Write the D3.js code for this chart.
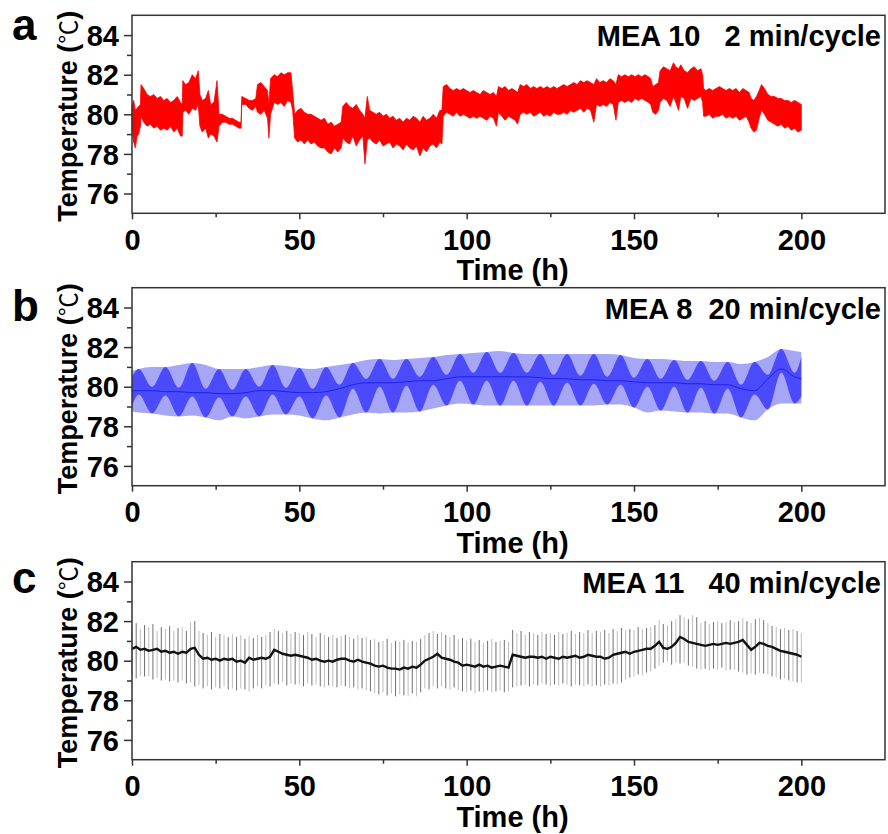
<!DOCTYPE html>
<html><head><meta charset="utf-8">
<script src="https://cdn.jsdelivr.net/npm/d3@7"></script>
<style>body{margin:0;background:#fff}svg{display:block}</style>
</head><body>
<script>
// ---------- Data ----------
const xTicks = [0, 50, 100, 150, 200];
const xMinor = [25, 75, 125, 175];
const yTicks = [76, 78, 80, 82, 84];
const yMinor = [77, 79, 81, 83];
const panelLetters = ["a", "b", "c"];
const panelTitles = ["MEA 10   2 min/cycle", "MEA 8  20 min/cycle", "MEA 11   40 min/cycle"];

// Panel a (MEA 10, 2 min/cycle): band envelope [time h, low, high]
const tA = [0,0.5,1,1.5,2,2.5,2.7,3.5,4.5,5.5,6.5,7.5,8.5,9.5,10.5,11.5,12.5,13.5,14.5,15,15.2,16,17,18,19,19.8,20.3,21,22,22.8,23.5,24.5,25.4,26,27,28,29,30,31,32,32.6,32.8,34,35,36,37,37.5,38.5,39.5,40.5,40.9,41.4,42.5,43.5,44.5,45.5,46.5,47.5,48,48.6,49.5,50.5,51.5,52.5,53.5,54.5,55.5,56.5,57.5,58.5,59.5,60.5,61.5,62.5,63,64,65,66,67,68,69,69.6,70.3,71,72,73,74,75,76,77,78,79,80,81,82,83,84,85,86,87,88,89,90,91,92,92.6,93,94,95,96,97,98,99,100,101,102,103,104,105,106,107,108,108.9,109.5,110.5,111.5,112.5,113.5,114.5,115.2,116,117,118,119,120,121,122,123,124,125,126,127,128,129,130,131,132,133,134,135,136,137,138,138.8,139.8,140.8,141.8,142.8,143.8,144.6,145.3,146.3,147.3,148.3,149.3,150.3,151.3,152.3,153.3,154.3,155,155.6,156.5,157.3,157.8,158.8,159.8,160.8,161.8,162.5,163.3,164,165,166,167,168,169,170,170.5,170.8,171.5,172.5,173.5,174.5,175.5,176.5,177.5,178.5,179.5,180.5,181.5,182.5,183.5,184.4,185,185.8,186.6,187.4,188.1,189,190,191,192,193,194,195,196,197,198,199,200];
const loA = [79.2,78.6,78.3,78.9,79.0,79.4,79.9,79.6,79.4,79.5,79.3,79.4,79.2,79.3,79.2,79.4,79.1,79.3,78.9,78.9,80.1,80.2,80.0,80.3,80.2,80.5,79.4,79.1,79.3,78.8,79.0,78.9,78.6,79.4,79.6,79.6,79.5,79.5,79.4,79.3,79.3,80.5,80.5,80.3,80.2,80.4,80.1,80.0,80.2,79.8,78.8,80.0,80.6,80.5,80.6,80.4,80.7,80.6,80.2,78.8,78.6,78.7,78.5,78.7,78.5,78.6,78.4,78.3,78.3,78.1,78.0,78.3,78.1,78.3,78.8,78.6,78.5,78.9,78.4,78.7,78.9,77.5,78.7,78.8,78.6,78.5,78.7,78.4,78.5,78.6,78.3,78.5,78.4,78.2,78.5,78.3,78.2,78.4,77.9,78.3,78.1,78.4,78.5,78.3,78.6,78.5,79.9,80.1,80.0,79.9,80.1,79.9,80.0,79.9,79.8,79.9,79.8,79.9,79.8,79.7,79.9,79.8,79.4,80.1,79.9,79.7,79.9,79.8,79.7,79.5,80.0,80.1,80.0,80.1,79.9,80.0,80.1,79.9,80.0,79.9,80.1,80.0,80.0,80.1,80.0,80.2,80.1,80.2,80.3,80.1,80.3,80.2,79.6,80.5,80.4,80.5,80.4,80.6,80.5,79.7,80.6,80.7,80.6,80.7,80.6,80.8,80.7,80.8,80.7,80.6,80.5,80.1,80.0,80.2,80.6,80.8,80.7,80.4,80.9,80.6,80.2,80.9,80.8,80.3,80.8,80.7,80.8,80.9,80.6,79.9,79.9,80.0,79.8,79.9,79.9,80.0,79.8,79.9,79.8,79.9,79.7,79.8,79.9,79.6,79.3,79.1,79.2,79.8,80.2,80.0,79.7,79.6,79.5,79.4,79.5,79.3,79.4,79.2,79.3,79.1,79.2];
const hiA = [80.4,80.7,80.2,80.3,80.4,80.5,81.5,81.3,81.0,80.9,81.0,80.8,80.9,80.7,80.8,80.6,80.7,80.9,80.6,80.5,81.7,81.5,81.6,82.0,81.8,82.2,81.0,80.7,80.8,81.2,80.5,80.6,81.7,80.0,80.0,79.9,79.8,79.8,79.7,79.6,79.6,80.9,80.8,80.7,80.7,80.8,81.5,81.6,81.4,81.2,80.5,81.8,82.0,81.9,82.1,82.0,82.1,82.1,81.2,80.0,80.2,80.3,80.1,80.0,80.0,79.9,79.8,79.7,79.8,79.5,79.6,79.4,79.5,79.6,80.4,80.6,80.4,80.3,80.5,80.2,80.0,79.8,80.9,80.2,80.1,80.0,80.1,79.9,80.0,79.8,79.9,79.7,79.8,79.6,79.8,79.7,79.9,79.8,79.6,79.9,79.7,79.8,80.0,79.8,80.2,80.2,81.4,81.5,81.3,81.2,81.3,81.2,81.3,81.2,81.1,81.2,81.1,81.0,81.2,81.1,81.0,81.1,80.9,81.4,81.3,81.4,81.2,81.3,81.2,81.1,81.5,81.4,81.5,81.3,81.4,81.3,81.4,81.3,81.4,81.3,81.4,81.3,81.4,81.5,81.4,81.5,81.6,81.5,81.7,81.6,81.7,81.6,81.5,81.8,81.6,81.7,81.6,81.8,81.7,81.5,82.0,81.9,82.0,81.9,82.0,81.9,82.0,81.9,82.0,81.9,81.8,81.4,81.5,81.6,82.2,82.4,82.3,82.2,82.6,82.4,82.3,82.5,82.2,82.1,82.3,82.4,82.2,82.3,82.0,81.3,81.2,81.3,81.2,81.3,81.4,81.3,81.2,81.3,81.2,81.3,81.1,81.3,81.2,81.1,80.8,80.7,80.9,81.2,81.5,81.3,81.0,80.9,80.9,80.8,80.8,80.7,80.7,80.6,80.7,80.6,80.5];

// Panel b (MEA 8, 20 min/cycle): outer band, inner dark band, centre line
const tB = [0,2,6,10,14,18,22,26,30,34,38,42,46,50,54,58,62,66,70,74,78,82,86,90,94,98,102,106,110,114,118,122,126,130,134,138,142,146,150,154,158,162,166,170,174,178,182,186,190,194,198,200];
const loB = [78.75,78.7,78.65,78.55,78.5,78.55,78.45,78.3,78.5,78.4,78.5,78.6,78.6,78.55,78.4,78.3,78.45,78.6,78.7,78.65,78.7,78.7,78.75,78.9,79.05,79.15,79.1,79.05,79.05,79.05,79.05,79.05,79.05,79.05,79.05,79.05,79.1,79.1,78.95,78.7,78.8,78.75,78.7,78.7,78.65,78.65,78.45,78.3,78.85,79.15,79.15,79.15];
const hiB = [80.8,80.9,81.0,81.0,81.1,81.2,81.1,80.9,80.9,80.9,81.0,81.1,81.05,80.95,80.9,81.0,81.1,81.2,81.35,81.4,81.35,81.4,81.45,81.5,81.6,81.65,81.7,81.75,81.8,81.7,81.65,81.65,81.65,81.65,81.65,81.65,81.65,81.6,81.45,81.4,81.4,81.35,81.3,81.3,81.25,81.25,81.15,81.25,81.5,81.9,81.8,81.75];
const dLoB = [79.0,79.6,78.65,79.55,78.5,79.5,78.45,79.45,78.5,79.5,78.5,79.6,78.6,79.5,78.4,79.55,78.45,79.9,78.7,80.0,78.7,80.05,78.75,80.1,79.05,80.3,79.1,80.3,79.05,80.3,79.05,80.25,79.05,80.2,79.05,80.15,79.1,80.1,78.95,80.0,78.8,80.0,78.7,79.95,78.65,79.9,78.45,79.6,78.85,80.7,79.15,79.5];
const dHiB = [80.5,80.9,80.0,81.0,79.95,81.2,79.9,80.9,79.85,80.9,80.0,81.1,79.95,80.95,79.9,81.0,80.1,81.2,80.4,81.4,80.4,81.4,80.5,81.5,80.6,81.65,80.7,81.75,80.7,81.7,80.7,81.65,80.6,81.65,80.55,81.65,80.5,81.6,80.45,81.4,80.4,81.35,80.35,81.3,80.3,81.25,80.1,81.25,80.6,81.9,80.7,81.5];
const midB = [79.8,79.8,79.8,79.75,79.75,79.7,79.7,79.65,79.65,79.7,79.8,79.8,79.75,79.7,79.7,79.75,79.9,80.1,80.2,80.2,80.2,80.25,80.3,80.3,80.4,80.5,80.5,80.5,80.5,80.5,80.5,80.45,80.4,80.4,80.35,80.35,80.3,80.3,80.25,80.2,80.2,80.2,80.15,80.15,80.1,80.1,79.9,79.8,80.4,80.9,80.5,80.4];

// Panel c (MEA 11, 40 min/cycle): sampled every 1.25 h
const stepC = 1.25;
const midC = [80.6,80.7,80.55,80.6,80.5,80.55,80.6,80.45, 80.5,80.4,80.45,80.35,80.45,80.4,80.6,80.65, 80.3,80.1,80.15,80.05,80.1,80.0,80.1,80.05, 80.1,79.95,80.0,79.9,80.15,80.05,80.1,80.15, 80.1,80.2,80.55,80.45,80.35,80.3,80.25,80.3, 80.25,80.2,80.15,80.05,80.1,80.0,79.95,80.0, 79.95,80.05,80.1,80.1,80.0,79.95,80.05,79.95, 79.9,79.85,79.75,79.7,79.75,79.65,79.6,79.6, 79.55,79.65,79.6,79.7,79.65,79.8,80.0,80.1, 80.2,80.35,80.15,80.1,80.05,79.95,79.9,79.75, 79.8,79.75,79.7,79.8,79.7,79.75,79.65,79.7, 79.75,79.7,79.65,80.3,80.25,80.2,80.15,80.2, 80.2,80.15,80.2,80.1,80.2,80.15,80.1,80.2, 80.15,80.2,80.25,80.15,80.2,80.3,80.25,80.2, 80.2,80.1,80.15,80.3,80.35,80.4,80.45,80.35, 80.45,80.5,80.55,80.6,80.6,80.75,80.95,80.65, 80.6,80.7,80.9,81.2,81.1,80.95,80.9,80.85, 80.8,80.75,80.8,80.85,80.8,80.85,80.9,80.85, 80.9,80.95,81.05,80.8,80.55,80.7,80.9,80.85, 80.75,80.7,80.6,80.5,80.45,80.4,80.35,80.3, 80.2];
const hiC = [81.8,81.9,81.6,81.8,81.7,81.85,81.5,81.7, 81.6,81.75,81.5,81.65,81.7,81.5,81.95,82.0, 81.5,81.4,81.3,81.45,81.2,81.35,81.3,81.2, 81.35,81.2,81.3,81.1,81.25,81.15,81.3,81.2, 81.3,81.45,81.6,81.5,81.4,81.5,81.35,81.45, 81.4,81.3,81.45,81.35,81.2,81.4,81.3,81.2, 81.3,81.15,81.25,81.3,81.2,81.1,81.3,81.15, 81.2,81.05,81.1,80.95,81.0,81.1,80.9,81.0, 80.95,81.05,80.9,81.0,80.95,81.1,81.3,81.4, 81.5,81.35,81.45,81.3,81.2,81.3,81.1,81.15, 81.0,81.1,80.95,81.05,80.9,81.0,81.1,80.95, 81.0,81.05,80.95,81.55,81.4,81.5,81.3,81.45, 81.4,81.3,81.45,81.35,81.4,81.3,81.45,81.35, 81.4,81.5,81.35,81.45,81.4,81.55,81.4,81.5, 81.45,81.55,81.4,81.6,81.5,81.65,81.55,81.6, 81.55,81.7,81.6,81.65,81.7,81.8,82.05,81.85, 81.8,82.0,82.1,82.3,82.2,82.1,82.3,82.2, 81.9,82.0,81.85,81.95,82.0,81.9,81.95,82.05, 81.95,82.0,82.15,82.0,81.9,82.1,82.15,82.05, 81.9,81.75,81.7,81.6,81.65,81.55,81.6,81.5, 81.4];
const loC = [79.3,79.1,79.25,79.2,79.2,79.05,79.15,79.0, 79.05,78.95,79.0,78.9,79.0,78.85,78.9,78.7, 78.75,78.6,78.7,78.55,78.65,78.6,78.7,78.55, 78.6,78.5,78.6,78.55,78.45,78.6,78.7,78.6, 78.75,78.7,78.85,78.8,78.9,78.75,78.85,78.8, 78.8,78.7,78.85,78.75,78.8,78.7,78.65,78.75, 78.7,78.65,78.75,78.7,78.6,78.65,78.55,78.6, 78.5,78.45,78.35,78.3,78.4,78.25,78.35,78.2, 78.3,78.25,78.2,78.35,78.2,78.4,78.6,78.55, 78.7,78.6,78.7,78.6,78.55,78.65,78.5,78.45, 78.4,78.5,78.35,78.45,78.4,78.5,78.4,78.45, 78.5,78.4,78.45,78.65,78.7,78.75,78.8,78.7, 78.8,78.75,78.85,78.8,78.7,78.8,78.75,78.85, 78.8,78.7,78.8,78.75,78.7,78.8,78.7,78.75, 78.7,78.8,78.75,78.85,78.8,78.9,79.05,79.15, 79.2,79.3,79.25,79.4,79.45,79.6,79.75,79.9, 79.95,79.8,79.9,79.85,79.9,79.75,79.7,79.6, 79.55,79.6,79.5,79.6,79.55,79.65,79.5,79.55, 79.55,79.45,79.4,79.3,79.35,79.3,79.4,79.35, 79.3,79.2,79.15,79.05,79.1,79.0,78.95,78.9, 78.9];

// ---------- Layout ----------
const W = 888, H = 834;
const left = 132, right = 885;
const panelTops = [15.3, 287.7, 561.7];
const panelH = 198;
const letterBase = [40, 321, 593];
const FONT = "'Liberation Sans', Arial, Helvetica, sans-serif";

const svg = d3.select("body").append("svg").attr("width", W).attr("height", H)
  .style("font-family", FONT);

const x = d3.scaleLinear().domain([0, 225]).range([left, right]);

function drawFrame(i, y) {
  const top = panelTops[i], bottom = top + panelH;
  const g = svg.append("g");
  const ya = g.append("g").attr("transform", `translate(${left},0)`)
    .call(d3.axisLeft(y).tickValues(yTicks).tickSize(8).tickPadding(5).tickFormat(d3.format("d")));
  const ym = g.append("g").attr("transform", `translate(${left},0)`)
    .call(d3.axisLeft(y).tickValues(yMinor).tickSize(5).tickFormat(""));
  const xa = g.append("g").attr("transform", `translate(0,${bottom})`)
    .call(d3.axisBottom(x).tickValues(xTicks).tickSize(6).tickPadding(10).tickFormat(d3.format("d")));
  const xm = g.append("g").attr("transform", `translate(0,${bottom})`)
    .call(d3.axisBottom(x).tickValues(xMinor).tickSize(4).tickFormat(""));
  [ya, ym, xa, xm].forEach(a => {
    a.select(".domain").remove();
    a.selectAll("line").attr("stroke", "#333").attr("stroke-width", 1.5);
    a.selectAll("text").attr("fill", "#000").style("font-family", FONT)
      .style("font-weight", "bold").style("font-size", "29px");
  });
  ya.selectAll("text").attr("dy", "0.35em");
  xa.selectAll("text").attr("dy", "0.71em");
  g.append("rect").attr("x", left).attr("y", top).attr("width", right - left).attr("height", panelH)
    .attr("fill", "none").attr("stroke", "#333").attr("stroke-width", 1.5);
  // x title
  g.append("text").attr("x", (left + right) / 2 + 4).attr("y", bottom + 67)
    .attr("text-anchor", "middle").style("font-weight", "bold").style("font-size", "29px")
    .text("Time (h)");
  // y title
  const yt = g.append("text")
    .attr("transform", `translate(77,${(top + bottom) / 2 + 2}) rotate(-90)`)
    .attr("text-anchor", "middle").style("font-weight", "bold").style("font-size", "27px");
  yt.append("tspan").text("Temperature (");
  yt.append("tspan").style("font-weight", "normal").style("font-size", "24px")
    .style("font-family", "'Noto Sans CJK SC'").text("℃");
  yt.append("tspan").text(")");
  // panel letter
  g.append("text").attr("x", 12).attr("y", letterBase[i]).style("font-weight", "bold")
    .style("font-size", "44px").text(panelLetters[i]);
  // panel title
  g.append("text").attr("x", 881).attr("y", top + 31).attr("text-anchor", "end")
    .attr("xml:space", "preserve").style("white-space", "pre")
    .style("font-weight", "bold").style("font-size", "29px").text(panelTitles[i]);
}

function yScale(i) {
  return d3.scaleLinear().domain([75, 85]).range([panelTops[i] + panelH, panelTops[i]]);
}

// ---------- Panel a ----------
{
  const y = yScale(0);
  const rows = tA.map((t, k) => ({t, lo: loA[k], hi: hiA[k]}));
  const area = d3.area().x(d => x(d.t)).y0(d => y(d.lo)).y1(d => y(d.hi));
  svg.append("path").datum(rows).attr("d", area).attr("fill", "#ff0000")
    .attr("stroke", "#ff0000").attr("stroke-width", 0.8);
  drawFrame(0, y);
}

// ---------- Panel b ----------
{
  const y = yScale(1);
  const rows = tB.map((t, k) => ({t, lo: loB[k], hi: hiB[k], dlo: dLoB[k], dhi: dHiB[k], m: midB[k]}));
  svg.append("path").datum(rows)
    .attr("d", d3.area().curve(d3.curveMonotoneX).x(d => x(d.t)).y0(d => y(d.lo)).y1(d => y(d.hi)))
    .attr("fill", "#a6a6f7");
  svg.append("path").datum(rows)
    .attr("d", d3.area().curve(d3.curveMonotoneX).x(d => x(d.t)).y0(d => y(d.dlo)).y1(d => y(d.dhi)))
    .attr("fill", "#4b4bfb");
  svg.append("path").datum(rows)
    .attr("d", d3.line().curve(d3.curveMonotoneX).x(d => x(d.t)).y(d => y(d.m)))
    .attr("fill", "none").attr("stroke", "#2020e8").attr("stroke-width", 1);
  drawFrame(1, y);
}

// ---------- Panel c ----------
{
  const y = yScale(2);
  const rows = midC.map((m, k) => ({t: k * stepC, m, lo: loC[k], hi: hiC[k]}));
  svg.append("g").selectAll("line").data(rows).join("line")
    .attr("x1", d => x(d.t)).attr("x2", d => x(d.t))
    .attr("y1", d => y(d.lo)).attr("y2", d => y(d.hi))
    .attr("stroke", (d, k) => k % 2 ? "#707070" : "#bdbdbd").attr("stroke-width", 1);
  svg.append("path").datum(rows)
    .attr("d", d3.line().x(d => x(d.t)).y(d => y(d.m)))
    .attr("fill", "none").attr("stroke", "#111").attr("stroke-width", 2.4);
  drawFrame(2, y);
}
</script>
</body></html>
